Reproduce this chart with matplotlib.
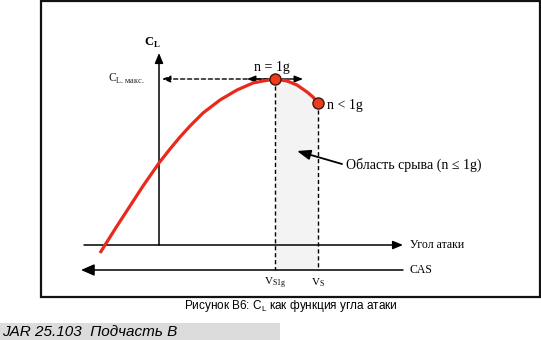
import matplotlib
matplotlib.use("Agg")
import matplotlib.pyplot as plt
from matplotlib.patches import Rectangle
import numpy as np

# ---- data: lift coefficient vs angle of attack (schematic) ----
alpha = [-5.9, -5.4, -4.2, -2.9, -1.6, 0.0, 1.1, 2.1, 3.1, 4.4, 6.1, 7.8, 9.4, 10.4,
         11.6, 12.8, 13.8, 14.8, 15.4, 15.9]
cl = [-0.08, 0.00, 0.19, 0.39, 0.59, 0.82, 0.96, 1.08, 1.19, 1.32, 1.45, 1.55, 1.62, 1.64,
      1.66, 1.64, 1.60, 1.53, 1.48, 1.42]

label_cl = "C$_\\mathregular{L}$"
label_clmax = "C$_\\mathregular{L.макс.}$"
label_n1 = "n = 1g"
label_nlt = "n < 1g"
label_region = "Область срыва (n ≤ 1g)"
label_aoa = "Угол атаки"
label_cas = "CAS"
label_vs1g = "V$_\\mathregular{S1g}$"
label_vs = "V$_\\mathregular{S}$"
caption = "Рисунок B6: C$_\\mathregular{L}$ как функция угла атаки"
header = "JAR 25.103  Подчасть B"

W, H = 541, 340
fig = plt.figure(figsize=(W / 100, H / 100), dpi=100)
ax = fig.add_axes([0, 0, 1, 1])
ax.axis("off")

# layout helpers: pixel position -> data coordinates
X0, Y0, SX, SY = 159, 245, 10.0, 100.0
def px(x):
    return (x - X0) / SX
def py(y):
    return (Y0 - y) / SY
ax.set_xlim(px(0), px(W))
ax.set_ylim(py(H), py(0))

serif = "Liberation Serif"
sans = "Liberation Sans"
red = "#e8291c"

i_max = int(np.argmax(cl))
a_max, cl_max = alpha[i_max], cl[i_max]
a_vs, cl_vs = alpha[-1], cl[-1]
y_cas = py(270)

# frame
ax.add_patch(Rectangle((px(41), py(297)), px(540) - px(41), py(1) - py(297),
                       fill=False, lw=1.6, ec="#111111", zorder=1))

# shaded stall region
sa = np.array(alpha[i_max:])
sc = np.array(cl[i_max:])
ax.fill_between(sa, sc, y_cas, color="#f3f3f3", lw=0, zorder=1)

# axes arrows
arr = dict(arrowstyle="-|>,head_length=0.6,head_width=0.25", color="black", lw=1.1,
           shrinkA=0, shrinkB=0)
ax.annotate("", xy=(px(159), py(53)), xytext=(px(159), py(245)), arrowprops=arr, zorder=2)
ax.annotate("", xy=(px(403), py(245)), xytext=(px(84), py(245)), arrowprops=arr, zorder=2)
ax.annotate("", xy=(px(81), y_cas), xytext=(px(403), y_cas),
            arrowprops=dict(arrowstyle="-|>,head_length=0.8,head_width=0.35", color="black",
                            lw=1.1, shrinkA=0, shrinkB=0), zorder=2)

# dashed guides
ax.annotate("", xy=(px(162), cl_max), xytext=(a_max, cl_max),
            arrowprops=dict(arrowstyle="-|>,head_length=0.5,head_width=0.2", color="black",
                            lw=1.0, ls=(0, (3, 2)), shrinkA=0, shrinkB=0), zorder=2)
ax.plot([a_max, a_max], [cl_max, y_cas], color="black", lw=1.0, ls=(0, (3, 2)), zorder=2)
ax.plot([a_vs, a_vs], [cl_vs, y_cas], color="black", lw=1.0, ls=(0, (3, 2)), zorder=2)

# double arrow at peak
dbl = dict(arrowstyle="-|>,head_length=0.5,head_width=0.2", color="black", lw=1.0,
           shrinkA=0, shrinkB=0)
ax.annotate("", xy=(px(247), cl_max), xytext=(a_max, cl_max), arrowprops=dbl, zorder=2)
ax.annotate("", xy=(px(303), cl_max), xytext=(a_max, cl_max), arrowprops=dbl, zorder=2)

# lift curve
ax.plot(alpha, cl, color=red, lw=2.3, solid_capstyle="butt", solid_joinstyle="round",
        zorder=3)
ax.plot([a_max, a_vs], [cl_max, cl_vs], "o", ms=8, mfc="#ef3a1c", mec="#3a1a10", mew=1.0,
        zorder=4)

# pointer arrow
ax.annotate("", xy=(px(297), py(151)), xytext=(px(342), py(164)),
            arrowprops=dict(arrowstyle="-|>,head_length=0.8,head_width=0.3", color="black",
                            lw=1.3, shrinkA=0, shrinkB=0), zorder=2)

# texts
ax.text(px(152), py(43), label_cl, family=serif, weight="bold", fontsize=9,
        ha="center", va="center")
ax.text(px(145), py(79), label_clmax, family=serif, fontsize=8.5, ha="right", va="center",
        color="#222222")
ax.text(px(272), py(67), label_n1, family=serif, fontsize=10, ha="center", va="center")
ax.text(px(327), py(105), label_nlt, family=serif, fontsize=10, ha="left", va="center")
ax.text(px(346), py(165), label_region, family=serif, fontsize=10, ha="left", va="center")
ax.text(px(410), py(245), label_aoa, family=serif, fontsize=8.5, ha="left", va="center")
ax.text(px(410), py(270), label_cas, family=serif, fontsize=8.5, ha="left", va="center")
ax.text(a_max, py(283), label_vs1g, family=serif, fontsize=8, ha="center", va="center")
ax.text(a_vs, py(283), label_vs, family=serif, fontsize=8, ha="center", va="center")
ax.text(px(291), py(306), caption, family=sans, fontsize=8.5, ha="center", va="center")

ax.add_patch(Rectangle((px(0), py(340)), px(280) - px(0), py(323) - py(340),
                       color="#dcdcdc", lw=0, zorder=0))
ax.text(px(2), py(332), header, family=sans, style="italic", fontsize=11,
        ha="left", va="center")

fig.savefig("out.png", dpi=100)
